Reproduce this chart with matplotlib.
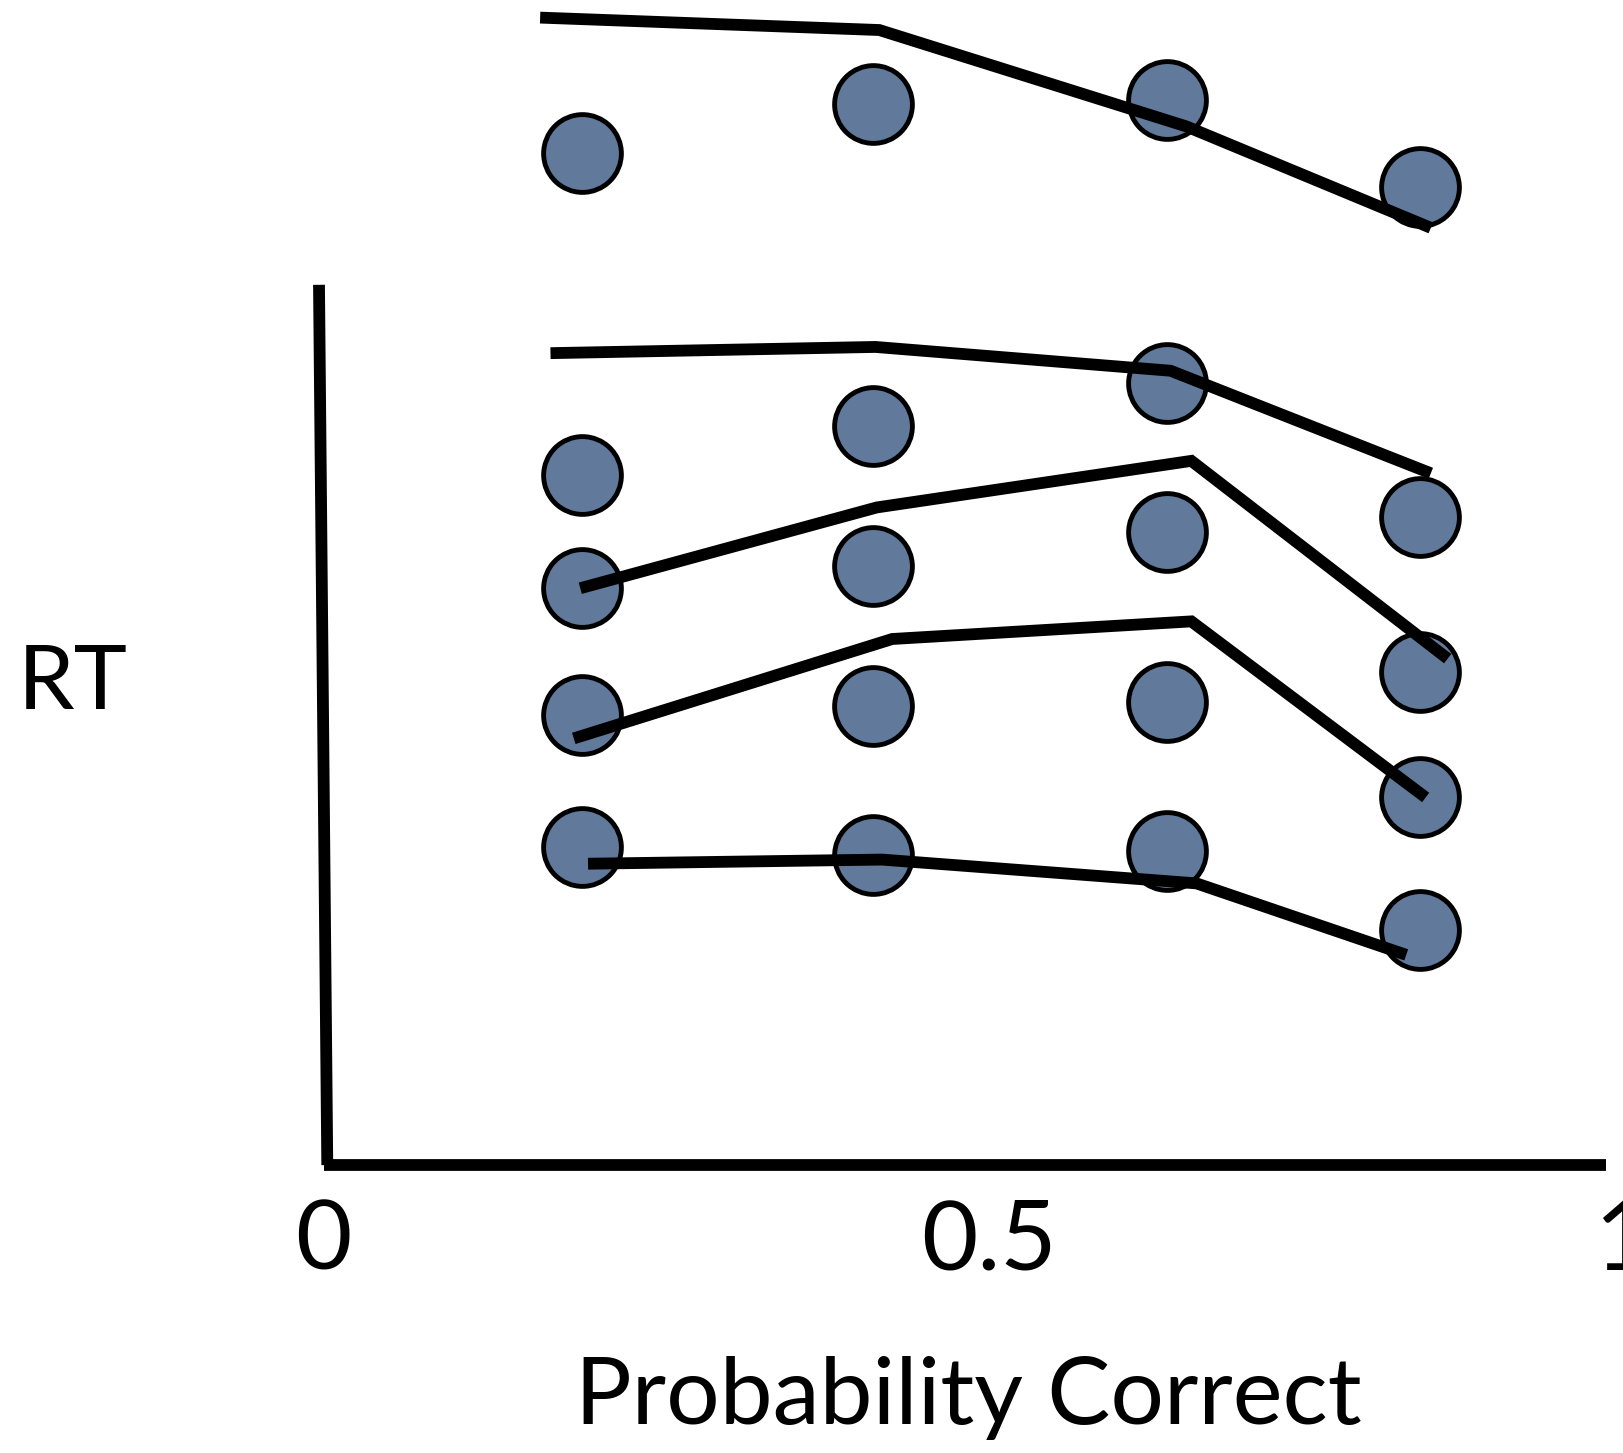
import matplotlib
matplotlib.use("Agg")
import matplotlib.pyplot as plt
import numpy as np

# probability correct for the four conditions
prob = [0.198, 0.423, 0.650, 0.846]

# observed RT (arbitrary units, 0 = x axis)
rt_top = [9.77, 10.25, 10.28, 9.44]
rt_obs = [
    [6.66, 7.14, 7.55, 6.26],
    [5.57, 5.78, 6.11, 4.76],
    [4.35, 4.43, 4.47, 3.55],
    [3.07, 2.99, 3.03, 2.27],
]

# model fits: x positions and RT values of each polyline
fit_top_x = [0.166, 0.428, 0.665, 0.854]
fit_top_y = [11.08, 10.96, 10.03, 9.05]
fit_x = [
    [0.174, 0.425, 0.653, 0.854],
    [0.197, 0.426, 0.669, 0.867],
    [0.192, 0.438, 0.669, 0.850],
    [0.203, 0.430, 0.673, 0.835],
]
fit_y = [
    [7.84, 7.90, 7.67, 6.68],
    [5.57, 6.35, 6.80, 4.89],
    [4.12, 5.08, 5.25, 3.55],
    [2.91, 2.95, 2.72, 2.03],
]

xticks = [0, 0.5, 1]
xtick_labels = ["0", "0.5", "1"]

fill = "#61799a"
font = ["Lato", "DejaVu Sans"]

fig = plt.figure(figsize=(16.24, 14.53), dpi=100)
ax = fig.add_axes([0, 0, 1, 1])
ax.set_xlim(-0.2512, 1.0032)
ax.set_ylim(-2.78, 11.25)
ax.axis("off")

# hand-drawn style axes
ax.plot([-0.0048, 0.0016], [8.5, 0], color="black", lw=8.5, solid_capstyle="butt")
ax.plot([-0.001, 0.989], [0, 0], color="black", lw=8.5, solid_capstyle="butt")

for row in [rt_top] + rt_obs:
    ax.plot(prob, row, "o", ms=56, mfc=fill, mec="black", mew=3.5, zorder=3)

for xs, ys in zip([fit_top_x] + fit_x, [fit_top_y] + fit_y):
    ax.plot(xs, ys, color="black", lw=8.5, solid_capstyle="butt",
            solid_joinstyle="miter", zorder=4)

label_x = [-0.0016, 0.5128, 1.0016]
for x, lab in zip(label_x, xtick_labels):
    ax.text(x, -0.75, lab, ha="center", va="center", fontsize=70, family=font)

ax.text(0.497, -2.25, "Probability Correct", ha="center", va="center",
        fontsize=68, family=font)
ax.text(-0.195, 4.65, "RT", ha="center", va="center", fontsize=65, family=font)

fig.savefig("out.png", dpi=100)
